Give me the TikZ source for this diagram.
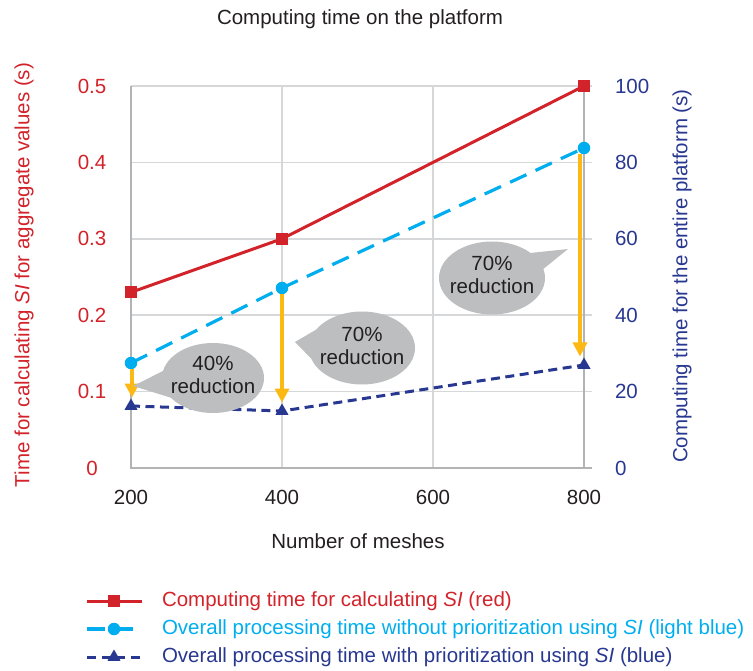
\documentclass[tikz,border=0pt]{standalone}
\usepackage{fontspec}
\setmainfont{Liberation Sans}
\usetikzlibrary{shapes.geometric,arrows.meta}
\definecolor{cred}{HTML}{D2232A}
\definecolor{clblue}{HTML}{00AEEF}
\definecolor{cnavy}{HTML}{283891}
\definecolor{cyel}{HTML}{FDB913}
\definecolor{cbub}{HTML}{BCBEC0}
\definecolor{cgrid}{HTML}{D6D7D8}
\definecolor{caxis}{HTML}{B1B3B5}
\definecolor{ctext}{HTML}{231F20}
\begin{document}
\begin{tikzpicture}[x=1pt,y=-1pt,
  every node/.style={font=\fontsize{20.5}{23.5}\selectfont, inner sep=0pt, outer sep=0pt},
  gridline/.style={cgrid, line width=1.6pt},
  axisline/.style={caxis, line width=2pt},
  redline/.style={cred, line width=3pt},
  lbline/.style={clblue, line width=3.2pt, dash pattern=on 18pt off 10pt},
  navyline/.style={cnavy, line width=3pt, dash pattern=on 9pt off 5.5pt},
  redmark/.style={fill=cred, rectangle, minimum size=12pt},
  lbmark/.style={fill=clblue, circle, minimum size=12.5pt},
  navymark/.style={fill=cnavy, regular polygon, regular polygon sides=3, minimum size=15pt},
  yarrow/.style={cyel, line width=4pt, -{Triangle[width=14pt,length=14pt]}, shorten >=1pt},
  bubble/.style={fill=cbub, ellipse, minimum width=106pt, minimum height=73pt},
  bubtext/.style={align=center, text=ctext},
  lefttick/.style={text=cred},
  righttick/.style={text=cnavy, anchor=west},
  xtick/.style={text=ctext},
  legtext/.style={anchor=west}
]
\useasboundingbox (0,0) rectangle (753,671);

% title
\node[text=ctext] (title) at (360,19) {Computing time on the platform};

% grid
\foreach \yy in {86,162.4,238.8,315.2,391.6} {
  \draw[gridline] (131,\yy) -- (592,\yy);
}
\foreach \xx in {282,433} {
  \draw[gridline] (\xx,86) -- (\xx,468);
}
% axes
\draw[axisline] (131,86) -- (131,469);
\draw[axisline] (130,468) -- (592,468);
\draw[axisline] (584,86) -- (584,469);

% left tick labels
\node[lefttick] (l0) at (92,468) {0};
\node[lefttick] (l1) at (92,391.6) {0.1};
\node[lefttick] (l2) at (92,315.2) {0.2};
\node[lefttick] (l3) at (92,238.8) {0.3};
\node[lefttick] (l4) at (92,162.4) {0.4};
\node[lefttick] (l5) at (92,86) {0.5};
% right tick labels
\node[righttick] (r0) at (615,468) {0};
\node[righttick] (r1) at (615,391.6) {20};
\node[righttick] (r2) at (615,315.2) {40};
\node[righttick] (r3) at (615,238.8) {60};
\node[righttick] (r4) at (615,162.4) {80};
\node[righttick] (r5) at (615,86) {100};
% x tick labels
\node[xtick] (x1) at (131,497) {200};
\node[xtick] (x2) at (282,497) {400};
\node[xtick] (x3) at (433,497) {600};
\node[xtick] (x4) at (584,497) {800};
\node[text=ctext] (xtitle) at (358,541) {Number of meshes};

% axis titles
\node[text=cred, rotate=90] (ytitle) at (24,275) {Time for calculating \textit{SI} for aggregate values (s)};
\node[text=cnavy, rotate=90] (y2title) at (682,276) {Computing time for the entire platform (s)};

% data coordinates
\coordinate (pr1) at (131,292.3);
\coordinate (pr2) at (282,238.8);
\coordinate (pr3) at (584,86);
\coordinate (pb1) at (131,363);
\coordinate (pb2) at (282,288);
\coordinate (pb3) at (584,148);
\coordinate (pn1) at (131,406);
\coordinate (pn2) at (282,411);
\coordinate (pn3) at (584,365);

% series lines
\draw[redline] (pr1) -- (pr2) -- (pr3);
\draw[lbline] (pb1) -- (pb2) -- (pb3);
\draw[navyline] (pn1) -- (pn2) -- (pn3);

% markers
\node[redmark] (mr1) at (pr1) {};
\node[redmark] (mr2) at (pr2) {};
\node[redmark] (mr3) at (pr3) {};
\node[lbmark] (mb1) at (pb1) {};
\node[lbmark] (mb2) at (pb2) {};
\node[lbmark] (mb3) at (pb3) {};
\node[navymark] (mn1) at (pn1) {};
\node[navymark] (mn2) at (pn2) {};
\node[navymark] (mn3) at (pn3) {};

% reduction arrows
\draw[yarrow] ([xshift=1pt]mb1.south) -- ([xshift=1pt]mn1.north);
\draw[yarrow] (mb2.south) -- (mn2.north);
\draw[yarrow] ([xshift=-4pt]mb3.south) -- ([xshift=-4pt]mn3.north);

% callouts
\node[bubble, minimum width=102pt, minimum height=70pt] (c1) at (213,378) {};
\coordinate (t1) at (133,386);
\fill[cbub] (t1) -- (c1.172) -- (c1.205) -- cycle;
\node[bubtext] (c1t) at (213,375) {40\%\\reduction};

\node[bubble] (c2) at (362,348) {};
\coordinate (t2) at (295,342);
\fill[cbub] (t2) -- (c2.158) -- (c2.192) -- cycle;
\node[bubtext] (c2t) at (362,346) {70\%\\reduction};

\node[bubble] (c3) at (492,278) {};
\coordinate (t3) at (568,249);
\fill[cbub] (t3) -- (c3.33) -- (c3.10) -- cycle;
\node[bubtext] (c3t) at (492,275) {70\%\\reduction};

% legend
\coordinate (la1) at (87,601);
\coordinate (lb1) at (142,601);
\draw[redline] (la1) -- (lb1);
\node[redmark] (lm1) at (114,601) {};
\node[legtext, text=cred] (lt1) at (162,601) {Computing time for calculating \textit{SI} (red)};

\coordinate (la2) at (87,629);
\coordinate (lb2) at (142,629);
\draw[lbline] (la2) -- (lb2);
\node[lbmark] (lm2) at (114,629) {};
\node[legtext, text=clblue] (lt2) at (162,629) {Overall processing time without prioritization using \textit{SI} (light blue)};

\coordinate (la3) at (87,657);
\coordinate (lb3) at (142,657);
\draw[navyline] (la3) -- (lb3);
\node[navymark] (lm3) at (114,657) {};
\node[legtext, text=cnavy] (lt3) at (162,657) {Overall processing time with prioritization using \textit{SI} (blue)};
\end{tikzpicture}
\end{document}
